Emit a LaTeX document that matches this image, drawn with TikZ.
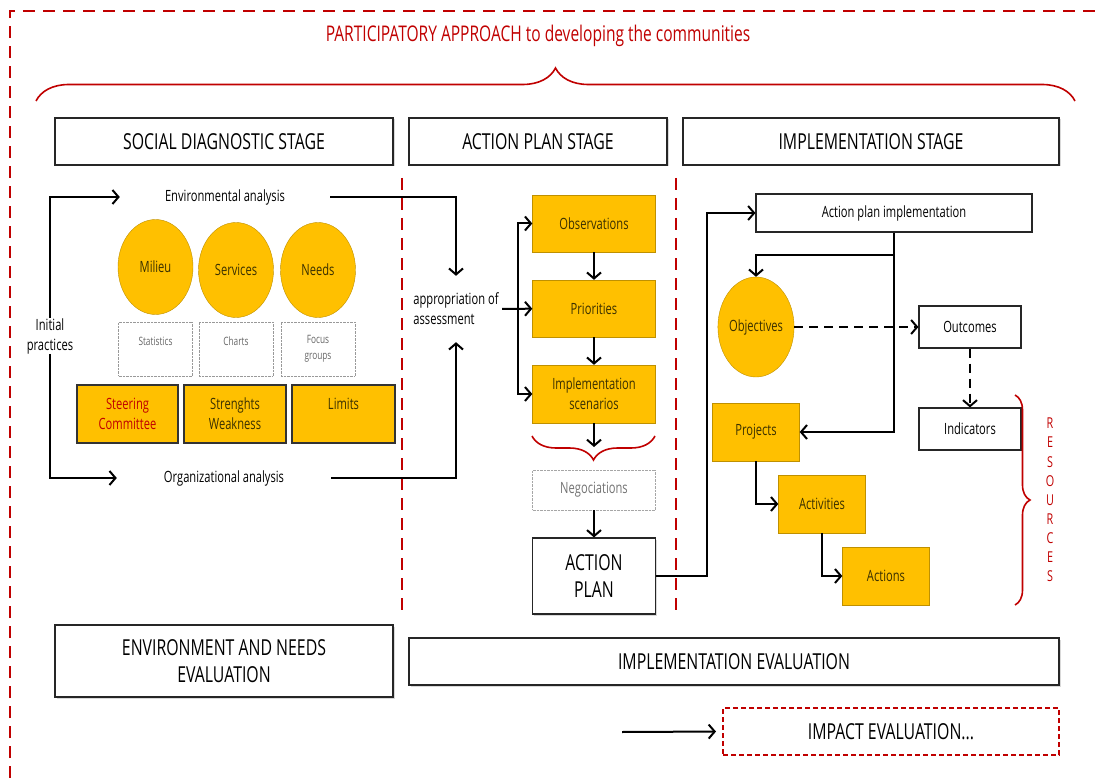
\documentclass[tikz,border=0pt]{standalone}
\usepackage{fontspec}
\setmainfont{Open Sans}[FakeStretch=0.72]
\usetikzlibrary{shapes,arrows,positioning,shadows,calc,shapes.geometric,arrows.meta,decorations.pathreplacing}
\definecolor{gold}{HTML}{FFC000}
\definecolor{goldline}{HTML}{BF9000}
\definecolor{darkred}{HTML}{C00000}
\definecolor{inkdark}{HTML}{3A3000}
\newcommand\fstage{\fontsize{22}{27}\selectfont}
\newcommand\fmid{\fontsize{15.5}{20}\selectfont}
\newcommand\fsmall{\fontsize{11.5}{16}\selectfont}

\begin{document}
\begin{tikzpicture}[x=1pt,y=-1pt,
					stage/.style={draw=black!85, fill=white, line width=1.2pt, drop shadow={shadow xshift=1.5pt, shadow yshift=-1.5pt, opacity=0.3}, align=center, inner sep=0pt, font=\fstage},
					box/.style={draw=black!85, fill=white, line width=1.1pt, drop shadow={shadow xshift=1.2pt, shadow yshift=-1.2pt, opacity=0.3}, align=center, inner sep=0pt, font=\fmid},
					plain/.style={inner sep=0pt, font=\fmid},
					bubble/.style={ellipse, draw=goldline, fill=gold, inner sep=0pt, minimum width=75pt, minimum height=95pt, text=inkdark, font=\fmid},
					tool/.style={draw=black!40, densely dotted, minimum width=74pt, minimum height=54pt, inner sep=0pt, align=center, text=black!60, font=\fsmall},
					fact/.style={draw=black!80, fill=gold, line width=1.1pt, drop shadow={shadow xshift=1.2pt, shadow yshift=-1.2pt, opacity=0.3}, minimum height=58pt, inner sep=0pt, align=center, text=inkdark, font=\fmid},
					planbox/.style={draw=goldline, fill=gold, minimum width=123pt, minimum height=57pt, inner sep=0pt, align=center, text=inkdark, font=\fmid},
					task/.style={planbox, minimum width=87pt, minimum height=58pt},
					arrow/.style={-{Straight Barb[length=6pt,width=14pt]}, line width=2pt},
					redbrace/.style={decorate, draw=darkred, line width=1.6pt},
					divider/.style={draw=darkred, line width=2pt, dash pattern=on 12pt off 8pt}]
	\useasboundingbox (0,0) rectangle (1095,778);
	\draw[divider] (10,778) -- (10,11) -- (1095,11);
	\node[text=darkred, font=\fontsize{21.6}{25}\selectfont] (title) at (538,36) {PARTICIPATORY APPROACH to developing the communities};
	\draw[redbrace, decoration={brace, amplitude=33pt}] (36,101) -- (1075,101);
	
	\node[stage, minimum width=338pt, minimum height=47pt] (social) at (224,141.5) {SOCIAL DIAGNOSTIC STAGE};
	\node[stage, minimum width=258pt, minimum height=47pt] (apstage) at (538,141.5) {ACTION PLAN STAGE};
	\node[stage, minimum width=376pt, minimum height=47pt] (implstage) at (871,141.5) {IMPLEMENTATION STAGE};
	\draw[divider] (402,178) -- (402,615);
	\draw[divider] (676,178) -- (676,612);
	
	\node[plain, minimum width=210pt] (env) at (225,197) {Environmental analysis};
	\node[plain, minimum width=214pt] (org) at (224,478) {Organizational analysis};
	\node[plain, align=center] (init) at (50,336) {Initial\\practices};
	\node[bubble] (milieu) at (155.5,267) {Milieu};
	\node[bubble] (services) at (236,270) {Services};
	\node[bubble] (needs) at (318,270) {Needs};
	\node[tool] (stats) at (155.5,349) {Statistics\\\mbox{}};
	\node[tool] (charts) at (236,349) {Charts\\\mbox{}};
	\node[tool] (focus) at (318,349) {Focus\\groups};
	\node[fact, minimum width=101pt, text=darkred] (steer) at (127.5,414) {Steering\\Committee};
	\node[fact, minimum width=102pt] (strength) at (235,414) {Strenghts\\Weakness};
	\node[fact, minimum width=103pt] (limits) at (343.5,414) {Limits\\\mbox{}};
	\draw[arrow] (init.north) |- (env.west);
	\draw[arrow] (init.south) |- (org.west);
	
	\node[plain, align=left, minimum width=92pt, minimum height=66pt] (approp) at (456,309) {appropriation of\\assessment};
	\draw[arrow] (env.east) -| (approp.north);
	\draw[arrow] (org.east) -| (approp.south);
	\node[planbox] (obs) at (594,223.5) {Observations};
	\node[planbox] (prio) at (594,308.5) {Priorities};
	\node[planbox, minimum height=58pt] (scen) at (594,394) {Implementation\\scenarios};
	\coordinate (split) at (518,308.5);
	\draw[arrow] (approp) -- (prio);
	\draw[arrow] (split) |- (obs.west);
	\draw[arrow] (split) |- (scen.west);
	\draw[arrow] (obs) -- (prio);
	\draw[arrow] (prio) -- (scen);
	\draw[redbrace, decoration={brace, amplitude=24pt}] (655,436) -- (532,436);
	\coordinate (bracetip) at (594,447);
	\draw[arrow] (scen.south) -- (bracetip);
	\node[draw=black!35, densely dotted, minimum width=123pt, minimum height=40pt, inner sep=0pt, text=black!55, font=\fmid] (nego) at (594,490) {Negociations};
	\node[stage, minimum width=123pt, minimum height=76pt] (plan) at (594,576) {ACTION\\PLAN};
	\draw[arrow] (nego) -- (plan);
	
	\node[box, minimum width=276pt, minimum height=38pt] (api) at (894,213) {Action plan implementation};
	\draw[arrow] (plan.east) -- ++(51,0) |- (api.west);
	\node[bubble, minimum width=74pt, minimum height=100pt] (obj) at (756,327) {Objectives};
	\node[box, minimum width=102pt, minimum height=42pt] (outc) at (970,327) {Outcomes};
	\node[box, minimum width=102pt, minimum height=42pt] (ind) at (970,429) {Indicators};
	\node[task] (proj) at (756,432) {Projects};
	\node[task] (act) at (822,504) {Activities};
	\node[task] (actions) at (886,576) {Actions};
	\draw[arrow] (api.south) -- ++(0,22) -| (obj.north);
	\draw[arrow] (api.south) |- (proj.east);
	\draw[arrow, dash pattern=on 9pt off 6pt] (obj) -- (outc);
	\draw[arrow, dash pattern=on 9pt off 6pt] (outc) -- (ind);
	\draw[arrow] (proj.south) |- (act.west);
	\draw[arrow] (act.south) |- (actions.west);
	\draw[redbrace, decoration={brace, amplitude=15pt}] (1015,395) -- (1015,605);
	\node[text=darkred, align=center, font=\fontsize{15}{19.1}\selectfont] (res) at (1050,500) {R\\E\\S\\O\\U\\R\\C\\E\\S};
	
	\node[stage, minimum width=338pt, minimum height=72pt] (enveval) at (224,661) {ENVIRONMENT AND NEEDS\\EVALUATION};
	\node[stage, minimum width=650pt, minimum height=47pt] (impleval) at (734,661.5) {IMPLEMENTATION EVALUATION};
	\node[draw=darkred, line width=2pt, dash pattern=on 5pt off 3pt, minimum width=336pt, minimum height=47pt, inner sep=0pt, font=\fstage] (impact) at (891,731.5) {IMPACT EVALUATION...};
	\coordinate (impin) at (622,732);
	\draw[arrow, shorten >=6pt] (impin) -- (impact.west);
\end{tikzpicture}
\end{document}
